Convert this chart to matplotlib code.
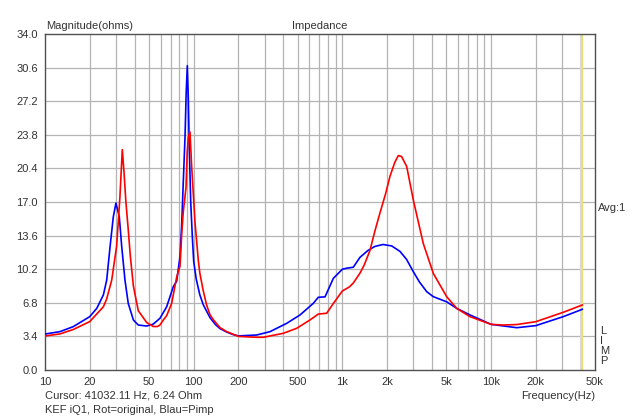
import numpy as np
import matplotlib
matplotlib.use("Agg")
import matplotlib.pyplot as plt

plt.rcParams['font.family'] = ['Liberation Sans', 'DejaVu Sans']

# Blue curve (Pimp)
blue_f = [10, 12.6, 15.5, 20, 22.3, 24.7, 26, 27.4, 28.8, 30, 31.6, 32.8, 34.5, 36.3,
          39.3, 42.4, 48.3, 53.5, 59.3, 65.8, 72.9, 76.9, 80.9, 83.1, 85.1, 87.4, 89.0,
          90.6, 92.0, 93.4, 95.5, 97.9, 100, 104, 110, 116, 128.7, 140, 150, 166, 183, 200,
          265, 326, 422, 519, 637, 689, 764, 870, 1000, 1069, 1184, 1313, 1487, 1650, 1875,
          2150, 2440, 2700, 3000, 3300, 3690, 4087, 5028, 5870, 7213, 10000, 14870, 20000,
          30590, 41050]
blue_z = [3.64, 3.88, 4.39, 5.4, 6.24, 7.6, 9.1, 12.5, 15.5, 16.9, 15.5, 12.5, 9.1, 6.74,
          5.06, 4.55, 4.45, 4.65, 5.23, 6.4, 8.43, 9.0, 11.5, 14.8, 19.0, 23.5, 28.0,
          30.8, 27.5, 22.5, 17.0, 13.5, 11.0, 9.2, 7.6, 6.6, 5.3, 4.6, 4.2, 3.85, 3.6, 3.45,
          3.54, 3.88, 4.72, 5.57, 6.74, 7.36, 7.4, 9.28, 10.2, 10.3, 10.4, 11.4, 12.1, 12.5, 12.7,
          12.55, 12.0, 11.2, 9.95, 8.9, 7.93, 7.42, 6.9, 6.24, 5.57, 4.62, 4.28, 4.49,
          5.4, 6.14]

# Red curve (original)
red_f = [10, 12.6, 15.5, 20, 24.7, 26, 28.1, 30.3, 31.1, 31.9, 33.1, 34.0, 35.0, 36.3,
         37.5, 39.3, 42.4, 48.3, 53.5, 57, 59.3, 62.5, 65.8, 71.1, 76.9, 80.9, 83.1,
         85.1, 88.8, 90.4, 92.0, 94.4, 97, 102, 107.4, 110, 116, 122, 128.7, 135.4, 150,
         166.7, 200, 265, 294, 400, 493, 605, 689, 784, 870, 1000, 1113, 1184, 1313, 1400,
         1533, 1650, 1790, 1950, 2090, 2250, 2376, 2500, 2707, 3000, 3500, 4087, 5028,
         5870, 7213, 10000, 12000, 14870, 20000, 30590, 41050]
red_z = [3.44, 3.65, 4.1, 4.9, 6.4, 7.2, 9.1, 12.5, 15.0, 17.5, 22.3, 20.0, 17.0, 14.2,
         11.5, 8.5, 6.0, 4.8, 4.4, 4.4, 4.55, 5.06, 5.5, 6.74, 9.44, 10.5, 13.8,
         16.0, 18.5, 22.0, 23.5, 24.1, 20.5, 15.0, 11.1, 9.8, 8.0, 6.6, 5.6, 5.1, 4.3,
         3.88, 3.4, 3.31, 3.31, 3.71, 4.22, 5.06, 5.66, 5.74, 6.74, 8.0, 8.4, 8.8, 9.8, 10.6,
         12.1, 14.0, 15.9, 17.8, 19.6, 21.0, 21.7, 21.6, 20.6, 17.2, 12.8, 9.78, 7.42,
         6.24, 5.4, 4.62, 4.55, 4.6, 4.89, 5.84, 6.58]

yticks = [0.0, 3.4, 6.8, 10.2, 13.6, 17.0, 20.4, 23.8, 27.2, 30.6, 34.0]
xmajor = [10, 20, 50, 100, 200, 500, 1000, 2000, 5000, 10000, 20000, 50000]
xlabels = ['10', '20', '50', '100', '200', '500', '1k', '2k', '5k', '10k', '20k', '50k']
xminor = [30, 40, 60, 70, 80, 90, 300, 400, 600, 700, 800, 900,
          3000, 4000, 6000, 7000, 8000, 9000, 30000, 40000]
cursor_f = 41032.11

W, H = 640, 418
fig = plt.figure(figsize=(W / 100, H / 100), dpi=100)
ax = fig.add_axes([45 / W, 1 - 370 / H, 550 / W, 336 / H])

ax.set_xscale('log')
ax.set_xlim(10, 50000)
ax.set_ylim(0, 34)

grid_c = '#b4b4b4'
for v in xmajor[1:-1] + xminor:
    ax.axvline(v, color=grid_c, lw=0.9, zorder=1)
for v in yticks[1:-1]:
    ax.axhline(v, color=grid_c, lw=0.9, zorder=1)

ax.axvline(cursor_f * 0.985, color='#d8d8d8', lw=1.5, zorder=1)
ax.axvline(cursor_f, color='#e8e070', lw=1.0, zorder=2)

ax.plot(blue_f, blue_z, color='#0000ff', lw=1.2, zorder=3)
ax.plot(red_f, red_z, color='#ff0000', lw=1.2, zorder=4)

ax.set_xticks(xmajor)
ax.set_xticklabels(xlabels)
ax.set_xticks([], minor=True)
ax.set_yticks(yticks)
ax.set_yticklabels(['%.1f' % v for v in yticks])
ax.tick_params(length=0, labelsize=8, colors='#333333', pad=5)
for s in ax.spines.values():
    s.set_color('#505050')
    s.set_linewidth(1.0)

fs = 8
fig.text(46 / W, 1 - 26 / H, 'Magnitude(ohms)', fontsize=fs, color='#333333', va='center')
fig.text(320 / W, 1 - 26 / H, 'Impedance', fontsize=fs, color='#333333', va='center', ha='center')
fig.text(595 / W, 1 - 396 / H, 'Frequency(Hz)', fontsize=fs, color='#333333', va='center', ha='right')
fig.text(45 / W, 1 - 396 / H, 'Cursor: 41032.11 Hz, 6.24 Ohm', fontsize=fs, color='#333333', va='center')
fig.text(45 / W, 1 - 410 / H, 'KEF iQ1, Rot=original, Blau=Pimp', fontsize=fs, color='#333333', va='center')
fig.text(598 / W, 1 - 208 / H, 'Avg:1', fontsize=fs, color='#333333', va='center')
for i, ch in enumerate('LIMP'):
    fig.text(600 / W, 1 - (331 + i * 10) / H, ch, fontsize=fs, color='#333333', va='center')

fig.savefig('out.png', dpi=100)
